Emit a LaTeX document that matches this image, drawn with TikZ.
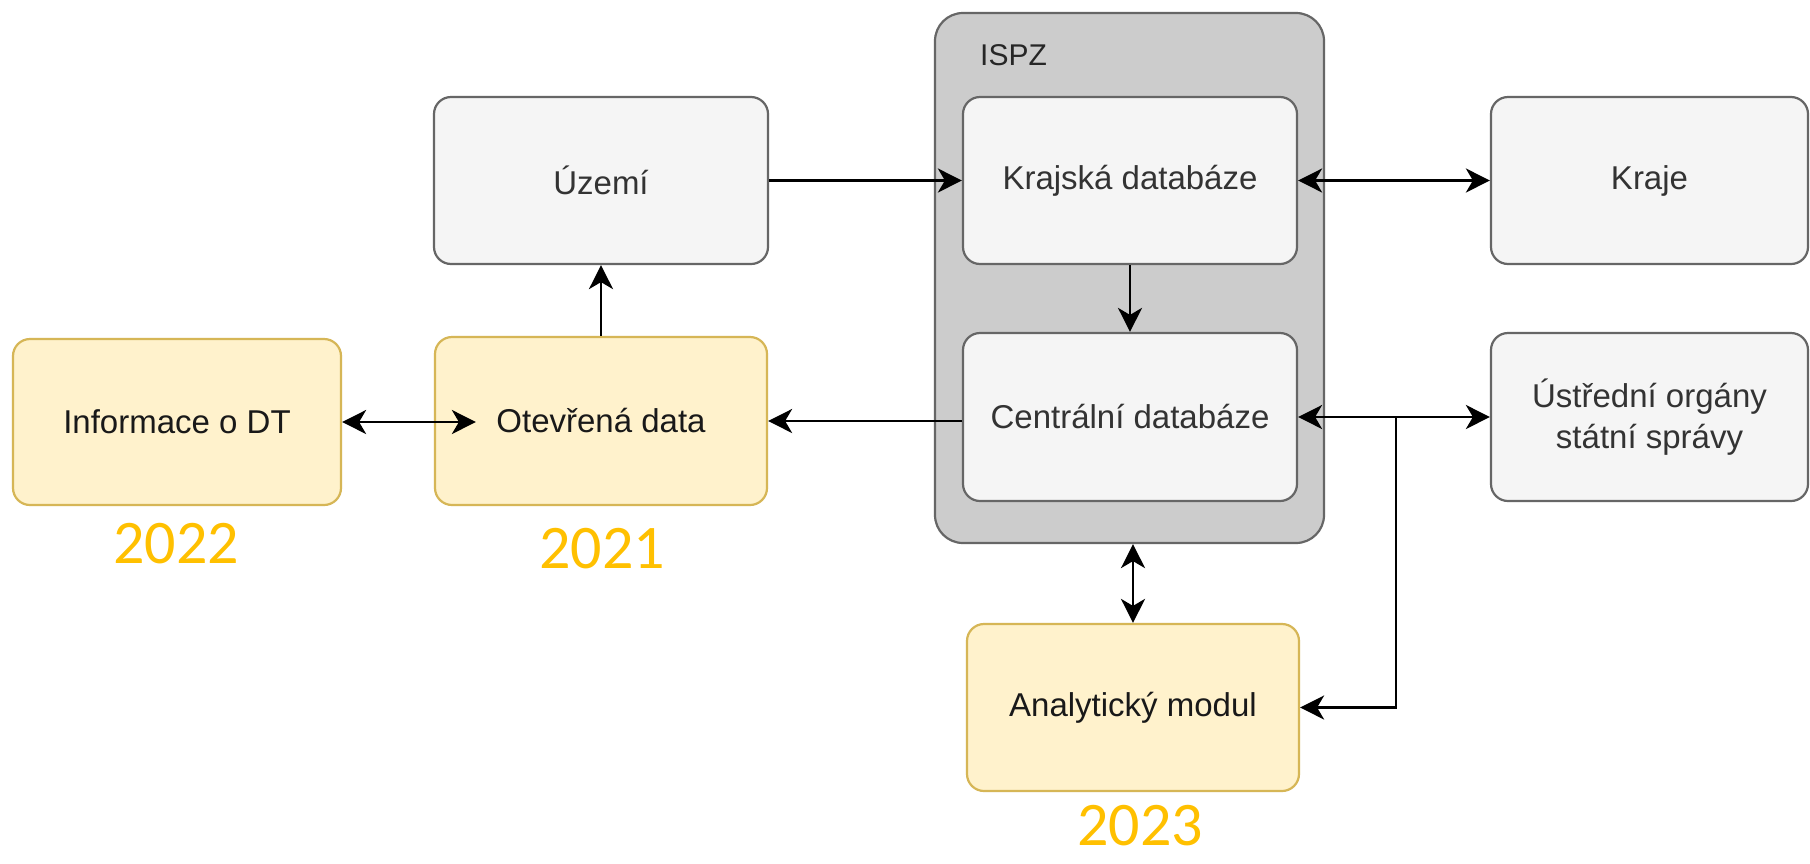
\documentclass[tikz,border=0pt]{standalone}
\usepackage{fontspec}
\setmainfont{Liberation Sans}
\newfontfamily\yearfont{Carlito}
\usetikzlibrary{arrows.meta,calc}
\definecolor{grayfill}{HTML}{F5F5F5}
\definecolor{graydraw}{HTML}{666666}
\definecolor{ispzfill}{HTML}{CCCCCC}
\definecolor{yelfill}{HTML}{FFF2CC}
\definecolor{yeldraw}{HTML}{D6B656}
\definecolor{yeartext}{HTML}{FFC000}
\definecolor{graytext}{HTML}{333333}
\tikzset{
  boxbase/.style={rectangle, rounded corners=17pt, line width=2.2pt, inner sep=0pt,
    minimum width=332pt, minimum height=167pt, align=center,
    font=\fontsize{33}{41}\selectfont},
  graybox/.style={boxbase, fill=grayfill, draw=graydraw, text=graytext},
  yelbox/.style={boxbase, fill=yelfill, draw=yeldraw, text=black!90},
  ispzbox/.style={rectangle, rounded corners=28pt, line width=2.2pt, fill=ispzfill, draw=graydraw,
    minimum width=389pt, minimum height=530pt, inner sep=0pt},
  yearlabel/.style={text=yeartext, font=\yearfont\fontsize{62}{70}\selectfont, inner sep=0pt},
  conn/.style={line width=2.6pt, draw=black},
  tip/.tip={Stealth[length=24pt, width=24pt, inset=7pt]},
  onearrow/.style={conn, -tip},
  twoarrow/.style={conn, tip-tip},
}
\begin{document}
\begin{tikzpicture}[x=1pt, y=-1pt]
\useasboundingbox[fill=white] (0,0) rectangle (1810,863);

% container
\node[ispzbox] (ispz) at (1129.5,278) {};
\node[anchor=west, inner sep=0pt, text=black!85, font=\fontsize{30}{36}\selectfont] (ispzlabel) at (980,55) {ISPZ};

% boxes
\node[graybox, minimum width=334pt] (uzemi) at (601,180.5) {Území};
\node[graybox, minimum width=334pt] (krajska) at (1130,180.5) {Krajská databáze};
\node[graybox, minimum width=317pt] (kraje) at (1649.5,180.5) {Kraje};
\node[graybox, minimum width=334pt, minimum height=168pt] (centr) at (1130,417) {Centrální databáze};
\node[graybox, minimum width=317pt, minimum height=168pt] (ustr) at (1649.5,417) {Ústřední orgány\\státní správy};
\node[yelbox, minimum height=168pt] (otev) at (601,421) {Otevřená data};
\node[yelbox, minimum width=328pt, minimum height=166pt] (info) at (177,422) {Informace o DT};
\node[yelbox] (anal) at (1133,707.5) {Analytický modul};

% year labels
\node[yearlabel] (y2022) at (176,544) {2022};
\node[yearlabel] (y2021) at (602,549) {2021};
\node[yearlabel] (y2023) at (1140,826) {2023};

% connectors
\draw[onearrow] (uzemi.east) -- (krajska.west);
\draw[twoarrow] (krajska.east) -- (kraje.west);
\draw[onearrow] (krajska.south) -- (centr.north);
\draw[twoarrow] (centr.east) -- (ustr.west);
\coordinate (junction) at ($(centr.east)+(98,0)$);
\draw[onearrow] (junction) |- (anal.east);
\draw[onearrow] (otev.east -| centr.west) -- (otev.east);
\draw[onearrow] (otev.north) -- (otev.north |- uzemi.south);
\coordinate (otevin) at ($(otev.west)+(42,0)$);
\draw[twoarrow] (info.east) -- (info.east -| otevin);
\draw[twoarrow] (anal.north |- ispz.south) -- (anal.north);
\end{tikzpicture}
\end{document}
